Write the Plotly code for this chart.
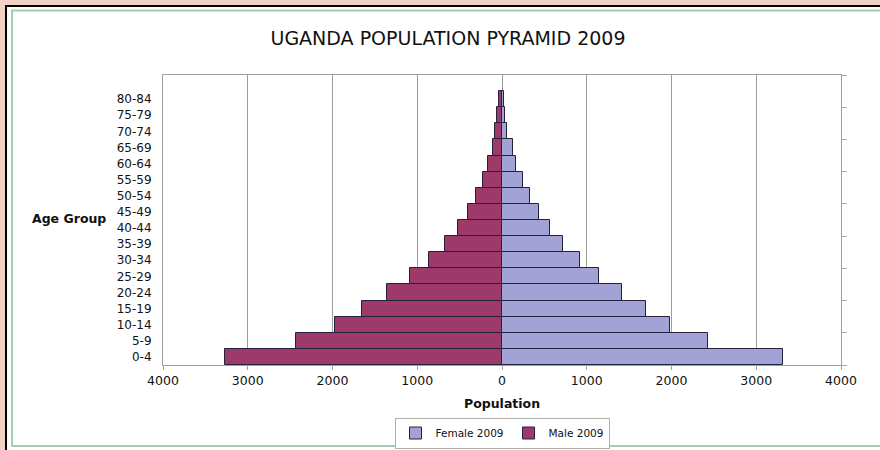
import plotly.graph_objects as go

age_groups = ["0-4", "5-9", "10-14", "15-19", "20-24", "25-29", "30-34", "35-39",
              "40-44", "45-49", "50-54", "55-59", "60-64", "65-69", "70-74", "75-79", "80-84"]
male_2009 = [3270, 2430, 1970, 1655, 1355, 1085, 860, 670, 525, 400, 305, 220, 165, 110, 80, 55, 40]
female_2009 = [3310, 2435, 1985, 1695, 1420, 1140, 915, 725, 565, 440, 335, 245, 170, 130, 60, 35, 20]
x_ticks = [-4000, -3000, -2000, -1000, 0, 1000, 2000, 3000, 4000]

W, H = 880, 450
L, R, T, B = 163, 841, 75, 365


def px(x):
    return (x - L) / (R - L)


def py(y):
    return (B - y) / (B - T)


FONT = "DejaVu Sans, Arial, sans-serif"
ypos = list(range(len(age_groups)))

fig = go.Figure()
fig.add_trace(go.Bar(
    y=ypos, x=female_2009, orientation="h", name="Female 2009",
    marker=dict(color="#a2a2d4", line=dict(color="#22223f", width=1)),
))
fig.add_trace(go.Bar(
    y=ypos, x=[-v for v in male_2009], orientation="h", name="Male 2009",
    marker=dict(color="#9e3a6a", line=dict(color="#22223f", width=1)),
))
# helper (empty) trace so the right-hand tick axis is drawn
fig.add_trace(go.Scatter(x=[None], y=[None], yaxis="y2", mode="markers",
                         showlegend=False, hoverinfo="skip"))

shapes = [
    dict(type="rect", xref="paper", yref="paper", layer="below",
         x0=px(6), x1=px(890), y0=py(6), y1=py(460),
         fillcolor="white", line=dict(color="black", width=2)),
    dict(type="rect", xref="paper", yref="paper", layer="below",
         x0=px(12), x1=px(890), y0=py(10.5), y1=py(446),
         fillcolor="rgba(0,0,0,0)", line=dict(color="#a6cdb2", width=2)),
]

fig.update_layout(
    width=W, height=H,
    margin=dict(l=L, r=W - R, t=T, b=H - B, autoexpand=False),
    paper_bgcolor="#f2d2c6",
    plot_bgcolor="#c3c3c3",
    barmode="relative",
    bargap=0,
    font=dict(family=FONT, size=12, color="#111111"),
    title=dict(text="UGANDA POPULATION PYRAMID 2009", xref="container", x=448 / W,
               xanchor="center", yref="container", y=1 - 38 / H, yanchor="middle",
               font=dict(family=FONT, size=19, color="#111111")),
    xaxis=dict(range=[-4000, 4000], tickvals=x_ticks,
               ticktext=[str(abs(v)) for v in x_ticks],
               showgrid=True, gridcolor="#9c9c9c", gridwidth=1, zeroline=False,
               showline=True, linecolor="#a0a0a0", linewidth=1, mirror=True,
               ticks="outside", ticklen=4, tickcolor="#a0a0a0",
               tickfont=dict(family=FONT, size=12.5, color="#111111")),
    yaxis=dict(range=[-0.5, len(age_groups) + 0.5], tickvals=ypos, ticktext=age_groups,
               showgrid=False, zeroline=False,
               showline=True, linecolor="#a0a0a0", linewidth=1, mirror=True,
               ticks="outside", ticklen=8, tickcolor="rgba(0,0,0,0)",
               tickfont=dict(family=FONT, size=12, color="#111111")),
    yaxis2=dict(overlaying="y", side="right", range=[-0.5, len(age_groups) + 0.5],
                tickvals=[i - 0.5 for i in range(0, len(age_groups) + 2, 2)],
                showticklabels=False, showgrid=False, zeroline=False,
                ticks="outside", ticklen=5, tickcolor="#a8a8a8", showline=False),
    legend=dict(orientation="h", x=px(502), xanchor="center", y=py(433), yanchor="middle",
                bordercolor="#b0b0b0", borderwidth=1, bgcolor="white",
                font=dict(family=FONT, size=10.5, color="#111111"),
                itemwidth=30, traceorder="normal"),
    shapes=shapes,
    annotations=[
        dict(text="<b>Population</b>", xref="paper", yref="paper", x=px(502), y=py(403),
             xanchor="center", yanchor="middle", showarrow=False,
             font=dict(family=FONT, size=12.5, color="#111111")),
        dict(text="<b>Age Group</b>", xref="paper", yref="paper", x=px(108), y=py(218),
             xanchor="right", yanchor="middle", showarrow=False,
             font=dict(family=FONT, size=12.5, color="#111111")),
    ],
    showlegend=True,
)

fig.write_html("out.html", config={"displayModeBar": False},
               post_script="document.body.style.margin='0';document.body.style.overflow='hidden';")
